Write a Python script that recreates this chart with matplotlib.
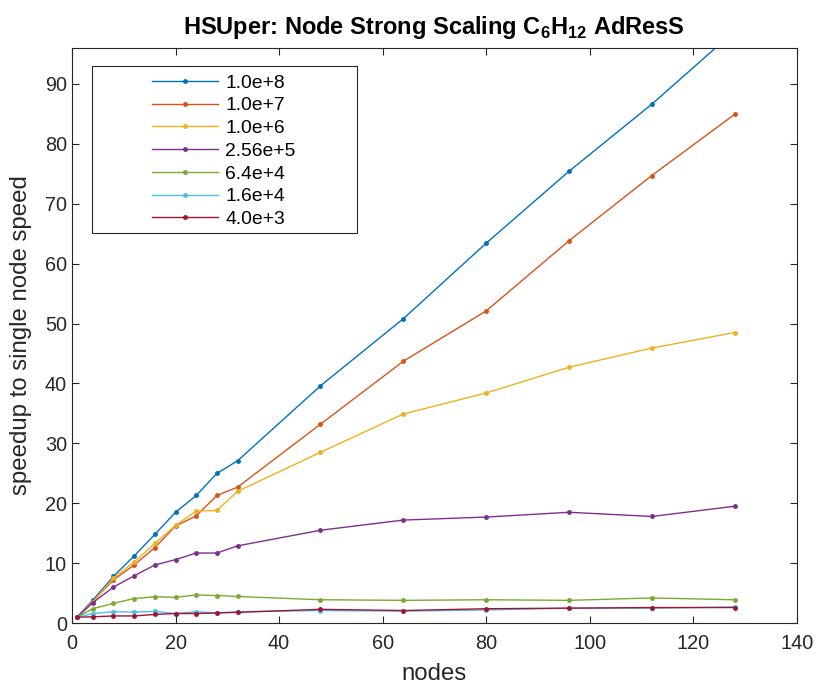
import matplotlib
matplotlib.use("Agg")
import matplotlib.pyplot as plt
from matplotlib.patches import Rectangle

plt.rcParams['font.family'] = ['Liberation Sans', 'DejaVu Sans']
plt.rcParams['mathtext.fontset'] = 'custom'
plt.rcParams['mathtext.bf'] = 'Liberation Sans:bold'
plt.rcParams['mathtext.rm'] = 'Liberation Sans'

nodes = [1, 4, 8, 12, 16, 20, 24, 28, 32, 48, 64, 80, 96, 112, 128]

labels = ['1.0e+8', '1.0e+7', '1.0e+6', '2.56e+5', '6.4e+4', '1.6e+4', '4.0e+3']

speedup_1e8 = [1, 3.8, 7.8, 11.2, 14.8, 18.5, 21.3, 25.0, 27.1, 39.6, 50.8, 63.4, 75.4, 86.6, 98.8]
speedup_1e7 = [1, 3.6, 7.2, 9.7, 12.6, 16.2, 17.9, 21.3, 22.7, 33.2, 43.7, 52.1, 63.8, 74.7, 84.9]
speedup_1e6 = [1, 3.5, 7.5, 10.2, 13.3, 16.3, 18.7, 18.8, 22.0, 28.5, 34.9, 38.4, 42.7, 45.9, 48.5]
speedup_256e3 = [1, 3.4, 6.0, 7.9, 9.7, 10.6, 11.7, 11.7, 12.9, 15.5, 17.2, 17.7, 18.5, 17.8, 19.5]
speedup_64e3 = [1, 2.4, 3.3, 4.1, 4.4, 4.3, 4.7, 4.6, 4.45, 3.9, 3.8, 3.9, 3.8, 4.2, 3.9]
speedup_16e3 = [1, 1.6, 1.9, 1.85, 1.95, 1.6, 1.9, 1.7, 1.9, 2.1, 2.0, 2.2, 2.5, 2.5, 2.7]
speedup_4e3 = [1, 1.05, 1.2, 1.2, 1.45, 1.6, 1.6, 1.7, 1.8, 2.3, 2.1, 2.4, 2.5, 2.6, 2.6]

series = [speedup_1e8, speedup_1e7, speedup_1e6, speedup_256e3,
          speedup_64e3, speedup_16e3, speedup_4e3]

# default MATLAB line colour order
colors = ['#0072BD', '#D95319', '#EDB120', '#7E2F8E', '#77AC30', '#4DBEEE', '#A2142F']

axis_color = '#262626'

fig = plt.figure(figsize=(8.18, 6.84), dpi=100)
ax = fig.add_axes([0.088, 0.089, 0.886, 0.841])

for vals, lab, c in zip(series, labels, colors):
    ax.plot(nodes, vals, color=c, lw=1.0, marker='o', markersize=2.5, label=lab)

ax.set_xlim(0, 140)
ax.set_ylim(0, 96)
ax.set_xticks(range(0, 141, 20))
ax.set_yticks(range(0, 91, 10))
ax.tick_params(direction='in', length=5, width=0.8, colors=axis_color,
               labelsize=14.3, top=True, right=True, labeltop=False, labelright=False)
ax.tick_params(axis='x', pad=8)
for sp in ax.spines.values():
    sp.set_color(axis_color)
    sp.set_linewidth(0.8)

ax.set_xlabel('nodes', fontsize=17.3, color=axis_color, labelpad=7)
ax.set_ylabel('speedup to single node speed', fontsize=17.3, color=axis_color, labelpad=9)
ax.set_title(r'HSUper: Node Strong Scaling C$_\mathbf{6}$H$_\mathbf{12}$ AdResS',
             fontsize=17, fontweight='bold', pad=10)

# legend frame drawn separately so its size can be fixed
ax.add_patch(Rectangle((0.0276, 0.6787), 0.3655, 0.2900, transform=ax.transAxes,
                       fill=True, facecolor='white', edgecolor=axis_color,
                       lw=0.8, zorder=5))
leg = ax.legend(loc='upper left', bbox_to_anchor=(0.105, 0.961), frameon=False,
                fontsize=13.9, handlelength=3.4, handletextpad=0.4,
                labelspacing=0.27, borderaxespad=0, borderpad=0.2)
leg.set_zorder(6)

fig.savefig('out.png', dpi=100)
